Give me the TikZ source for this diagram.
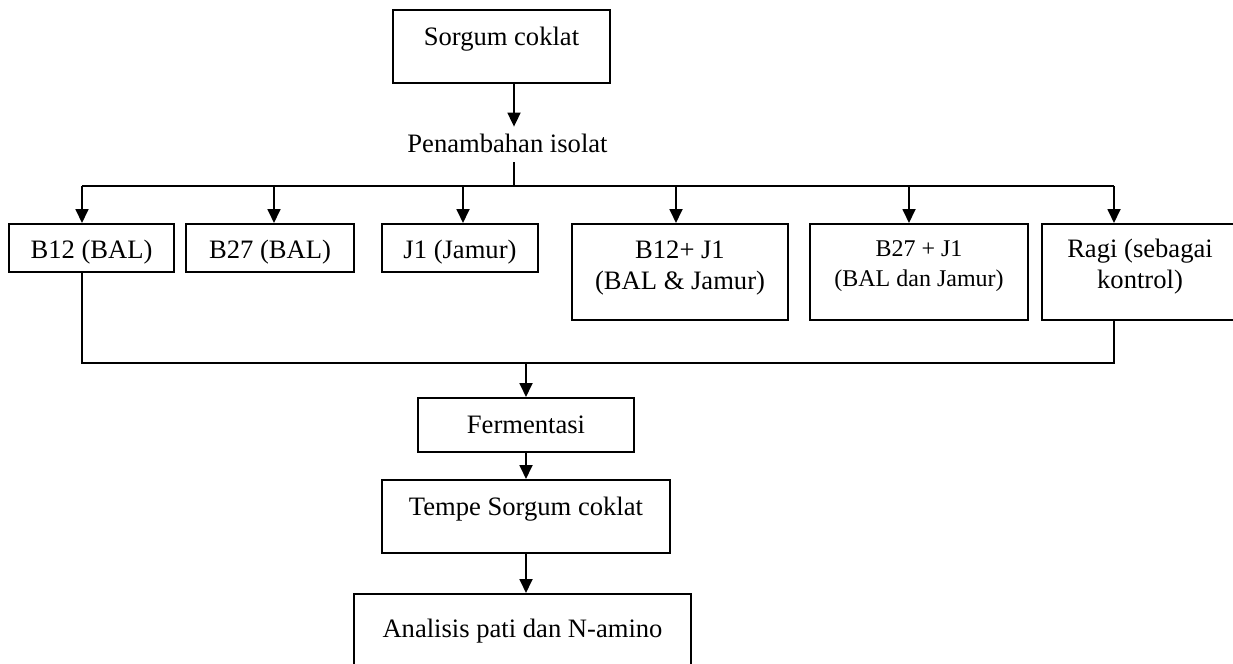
\documentclass[tikz,border=0pt]{standalone}
\usepackage{fontspec}
\setmainfont{Liberation Serif}
\usetikzlibrary{arrows.meta,calc}

\begin{document}
\begin{tikzpicture}[x=0.5pt, y=-0.5pt,
    box/.style={draw, line width=0.9pt, inner sep=0pt, anchor=north, align=center},
    arr/.style={-{Triangle[length=7pt,width=6.5pt]}, line width=0.9pt},
    link/.style={line width=0.9pt},
    font=\fontsize{13.3}{15.5}\selectfont]
  \useasboundingbox (0,0) rectangle (1233,664);

  % bahan awal
  \node (sorgum) at (501.5,9) [box, minimum width=108.5pt, text height=18pt, text depth=18.5pt] {Sorgum coklat};
  \node (tambah) at (507.5,152) [anchor=base, inner sep=0pt, text height=12.5pt, text depth=5pt] {Penambahan isolat};
  \coordinate (bus) at (514,186);

  \draw[arr] (sorgum.south -| bus) -- (tambah.north -| bus);
  \draw[link] (tambah.south -| bus) -- (bus);

  % isolat
  \node (b12) at (91.5,223) [box, minimum width=82.5pt, text height=17.5pt, text depth=6.5pt] {B12 (BAL)};
  \node (b27) at (270,223) [box, minimum width=84pt, text height=17.5pt, text depth=6.5pt] {B27 (BAL)};
  \node (j1) at (460,223) [box, minimum width=78pt, text height=17.5pt, text depth=6.5pt] {J1 (Jamur)};
  \node (b12j1) at (680,223) [box, minimum width=108pt, text height=33pt, text depth=15pt] {B12+ J1\\(BAL \& Jamur)};
  \node (b27j1) at (919,223) [box, minimum width=109pt, text height=31.5pt, text depth=16.5pt,
      font=\fontsize{12}{15}\selectfont] {B27 + J1\\(BAL dan Jamur)};
  \node (ragi) at (1140,223) [box, minimum width=98pt, text height=32.5pt, text depth=15.5pt] {Ragi (sebagai\\kontrol)};

  \foreach \n/\x in {b12/82, b27/274, j1/463, b12j1/676, b27j1/909, ragi/1114}
    \coordinate (d-\n) at (\x,186);
  \draw[link] (d-b12) -- (d-ragi);
  \foreach \n in {b12, b27, j1, b12j1, b27j1, ragi}
    \draw[arr] (d-\n) -- (d-\n |- \n.north);

  % gabung
  \coordinate (join) at (526,363);
  \draw[link] (d-b12 |- b12.south) -- (d-b12 |- join) -- (d-ragi |- join) -- (d-ragi |- ragi.south);

  % proses
  \node (ferm) at (526,397) [box, minimum width=108pt, text height=18pt, text depth=9pt] {Fermentasi};
  \node (tempe) at (526,479) [box, minimum width=144pt, text height=18pt, text depth=18.5pt] {Tempe Sorgum coklat};
  \node (analisis) at (522.5,593) [box, minimum width=168.5pt, text height=22pt, text depth=30pt] {Analisis pati dan N-amino};

  \draw[arr] (join) -- (ferm.north);
  \draw[arr] (ferm.south) -- (tempe.north);
  \draw[arr] (tempe.south) -- (tempe.south |- analisis.north);
\end{tikzpicture}
\end{document}
